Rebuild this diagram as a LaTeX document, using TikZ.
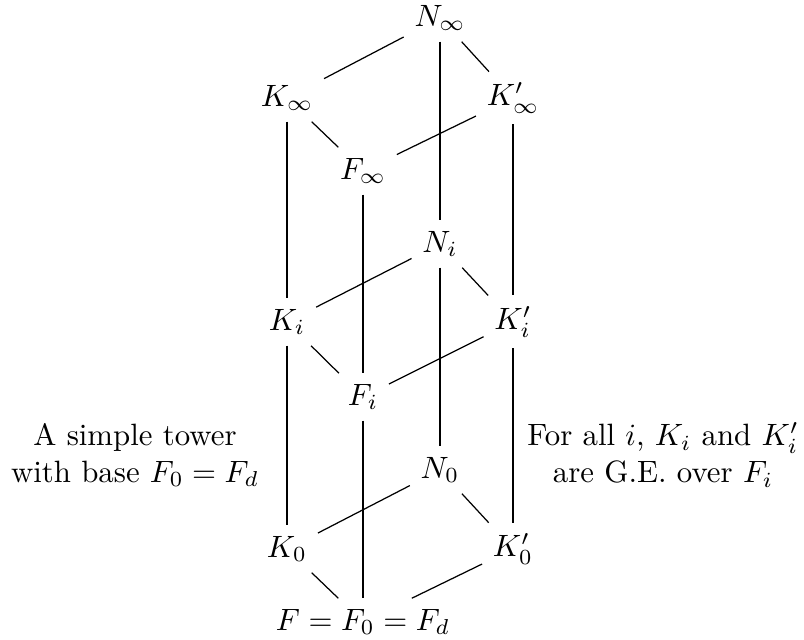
\documentclass[tikz,border=0pt]{standalone}
\usepackage{amsmath}
\begin{document}
\begin{tikzpicture}[x=0.0114cm,y=-0.0114cm]
  \useasboundingbox (0,0) rectangle (804,640);
  % top layer
  \node (Ninf) at (440,18) {$N_\infty$};
  \node (Kinf) at (287,98) {$K_\infty$};
  \node (Kpinf) at (513,98) {$K'_\infty$};
  \node (Finf) at (363,171) {$F_\infty$};
  % middle layer
  \node (Ni) at (440,244) {$N_i$};
  \node (Ki) at (287,322) {$K_i$};
  \node (Kpi) at (513,322) {$K'_i$};
  \node (Fi) at (363,397) {$F_i$};
  % bottom layer
  \node (N0) at (440,470) {$N_0$};
  \node (K0) at (287,549) {$K_0$};
  \node (Kp0) at (513,549) {$K'_0$};
  \node (F0) at (363,622) {$F=F_0=F_d$};
  % side notes
  \node[align=center] (ltext) at (135,455) {A simple tower\\with base $F_0=F_d$};
  \node[align=center] (rtext) at (663,455) {For all $i$, $K_i$ and $K'_i$\\are G.E. over $F_i$};
  % edges
  \draw (Ninf) -- (Kinf);
  \draw (Ninf) -- (Kpinf);
  \draw (Kinf) -- (Finf);
  \draw (Kpinf) -- (Finf);
  \draw (Ni) -- (Ki);
  \draw (Ni) -- (Kpi);
  \draw (Ki) -- (Fi);
  \draw (Kpi) -- (Fi);
  \draw (N0) -- (K0);
  \draw (N0) -- (Kp0);
  \draw (K0) -- (F0);
  \draw (Kp0) -- (F0);
  \draw (Ninf) -- (Ni) -- (N0);
  \draw (Kinf) -- (Ki) -- (K0);
  \draw (Kpinf) -- (Kpi) -- (Kp0);
  \draw (Finf) -- (Fi) -- (F0);
\end{tikzpicture}
\end{document}
